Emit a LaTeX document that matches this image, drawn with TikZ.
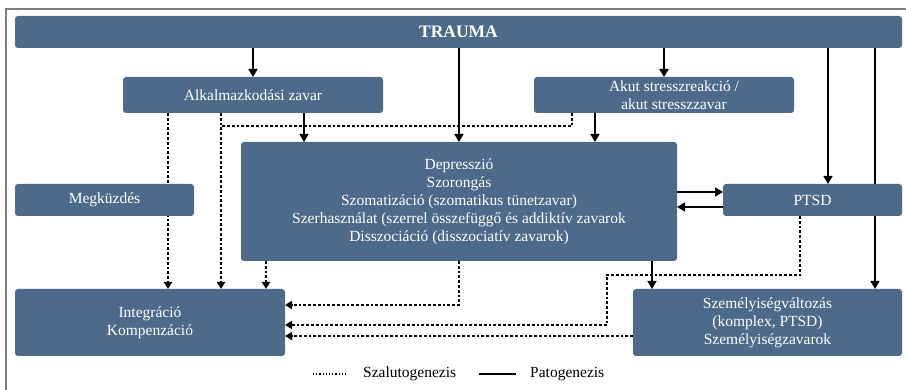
\documentclass[tikz,border=0pt]{standalone}
\usepackage{fontspec}
\setmainfont{Liberation Serif}
\usepackage{xcolor}
\usepackage{tikz}
\usetikzlibrary{calc,arrows.meta,backgrounds}
\definecolor{boxfill}{HTML}{4E6A8A}
\definecolor{frame}{HTML}{7F7F7F}
\definecolor{ink}{HTML}{000000}
\tikzset{
  box/.style={
    fill=boxfill,
    text=white,
    rounded corners=3pt,
    inner sep=2pt,
    outer sep=0pt,
    align=center,
    font=\fontsize{15.5}{18}\selectfont
  },
  pato/.style={draw=ink, line width=1.6pt, -{Triangle[length=8pt,width=9pt]}},
  salu/.style={draw=ink, line width=2.2pt, dash pattern=on 2.8pt off 2pt,
    -{Triangle[length=7pt,width=8pt]}},
  legtxt/.style={font=\fontsize{15.5}{18}\selectfont, inner sep=0pt, anchor=west}
}

\begin{document}
\begin{tikzpicture}[x=1pt, y=-1pt]
  \useasboundingbox (0,0) rectangle (906,390);
  \draw[frame, line width=1.5pt] (6,390) -- (6,9) -- (906,9);

  \node[box, minimum width=887pt, minimum height=32pt,
    font=\fontsize{17.5}{20}\selectfont\bfseries] (trauma) at (458.5,32) {TRAUMA};
  \node[box, minimum width=260pt, minimum height=36pt] (alk) at (253,95) {Alkalmazkodási zavar};
  \node[box, minimum width=260pt, minimum height=36pt] (akut) at (664,95)
    {\hspace*{20pt}Akut stresszreakció /\\\hspace*{20pt}akut stresszzavar};
  \node[box, minimum width=436pt, minimum height=119pt] (dep) at (459,201.5)
    {Depresszió\\Szorongás\\Szomatizáció (szomatikus tünetzavar)\\
     Szerhasználat (szerrel összefüggő és addiktív zavarok\\
     Disszociáció (disszociatív zavarok)};
  \node[box, minimum width=179pt, minimum height=32pt] (megk) at (104.5,200) {Megküzdés};
  \node[box, minimum width=179pt, minimum height=32pt] (ptsd) at (812.5,200) {PTSD};
  \node[box, minimum width=270pt, minimum height=67pt] (integr) at (150,322.5)
    {Integráció\\Kompenzáció};
  \node[box, minimum width=269pt, minimum height=67pt] (szemely) at (767.5,322.5)
    {Személyiségváltozás\\(komplex, PTSD)\\Személyiségzavarok};

  % lines that run behind a box
  \begin{pgfonlayer}{background}
    \coordinate (thru) at ([xshift=62.5pt]ptsd.north);
    \draw[pato] (trauma.south -| thru) -- (szemely.north -| thru);
    \coordinate (alkleft) at ([xshift=-85pt]alk.south);
    \draw[salu] (alkleft) -- (integr.north -| alkleft);
  \end{pgfonlayer}

  % patogenezis
  \coordinate (ptsdin) at ([xshift=15.5pt]ptsd.north);
  \coordinate (alkout) at ([xshift=51pt]alk.south);
  \coordinate (akutout) at ([xshift=-69pt]akut.south);
  \coordinate (depout) at ([xshift=193pt]dep.south);
  \draw[pato] (trauma.south -| alk.north) -- (alk.north);
  \draw[pato] (trauma.south -| dep.north) -- (dep.north);
  \draw[pato] (trauma.south -| akut.north) -- (akut.north);
  \draw[pato] (trauma.south -| ptsdin) -- (ptsdin);
  \draw[pato] (alkout) -- (dep.north -| alkout);
  \draw[pato] (akutout) -- (dep.north -| akutout);
  \draw[pato] ([yshift=8pt]ptsd.west -| dep.east) -- ([yshift=8pt]ptsd.west);
  \draw[pato] ([yshift=-7pt]ptsd.west) -- ([yshift=-7pt]ptsd.west -| dep.east);
  \draw[pato] (depout) -- (szemely.north -| depout);

  % szalutogenezis
  \coordinate (alkdot) at ([xshift=-32pt]alk.south);
  \coordinate (depdot) at ([xshift=-193pt]dep.south);
  \draw[salu] (alkdot) -- (integr.north -| alkdot);
  \draw[salu, -] ([xshift=-92pt]akut.south) |- ([yshift=-13pt]alkdot);
  \draw[salu] (depdot) -- (integr.north -| depdot);
  \draw[salu] (dep.south) |- ([yshift=17.5pt]integr.east);
  \coordinate (bend) at (607,275);
  \draw[salu] ([xshift=-12.5pt]ptsd.south) |- (bend) |- ([yshift=-2.5pt]integr.east);
  \draw[salu] ([yshift=-13.5pt]szemely.west) -- ([yshift=-13.5pt]szemely.west -| integr.east);

  % jelmagyarazat
  \node[legtxt] (salutxt) at (363,374) {Szalutogenezis};
  \node[legtxt] (patotxt) at (530,374) {Patogenezis};
  \draw[ink, line width=1.2pt, dash pattern=on 1.2pt off 2pt]
    ([xshift=-50pt]salutxt.west) -- ([xshift=-15pt]salutxt.west);
  \draw[ink, line width=1.5pt] ([xshift=-51pt]patotxt.west) -- ([xshift=-14pt]patotxt.west);
\end{tikzpicture}
\end{document}
